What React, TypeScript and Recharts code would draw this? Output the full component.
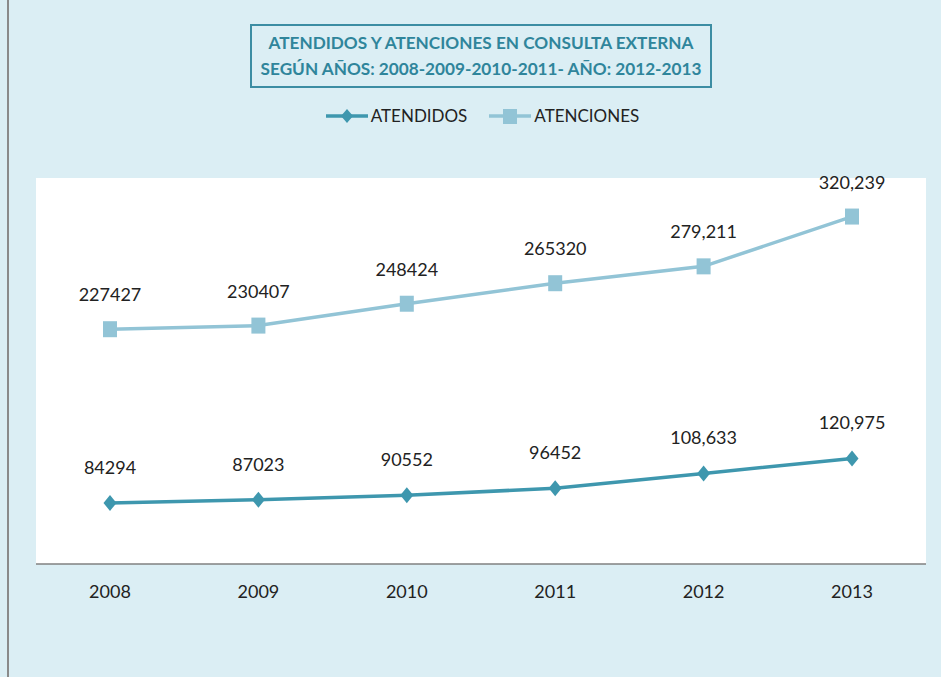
import { LineChart, Line, XAxis, YAxis, CartesianGrid, LabelList } from "recharts";

const years = ["2008", "2009", "2010", "2011", "2012", "2013"];
const atendidos = [84294, 87023, 90552, 96452, 108633, 120975];
const atenciones = [227427, 230407, 248424, 265320, 279211, 320239];
const atendidosLabels = ["84294", "87023", "90552", "96452", "108,633", "120,975"];
const atencionesLabels = ["227427", "230407", "248424", "265320", "279,211", "320,239"];

const data = years.map((year, i) => ({
  year,
  atendidos: atendidos[i],
  atenciones: atenciones[i],
  atendidosLabel: atendidosLabels[i],
  atencionesLabel: atencionesLabels[i],
}));

const BG = "#dbeef4";
const DARK = "#3e97ae";
const LIGHT = "#92c4d6";
const FONT = "Lato, 'Open Sans', sans-serif";

const Diamond = (props: any) => {
  const { cx, cy } = props;
  if (cx == null || cy == null) return null;
  return <polygon points={`${cx},${cy - 8} ${cx + 6.5},${cy} ${cx},${cy + 8} ${cx - 6.5},${cy}`} fill={DARK} />;
};

const Square = (props: any) => {
  const { cx, cy } = props;
  if (cx == null || cy == null) return null;
  return <rect x={cx - 7} y={cy - 8} width={14} height={16} fill={LIGHT} />;
};

function LegendRow() {
  return (
    <div
      style={{
        position: "absolute",
        top: 105,
        left: 0,
        width: 941,
        display: "flex",
        justifyContent: "center",
        gap: 22,
        fontFamily: FONT,
        fontSize: 17,
        color: "#222",
        paddingLeft: 12,
      }}
    >
      <span style={{ display: "flex", alignItems: "center" }}>
        <svg width={42} height={20} style={{ marginRight: 3 }}>
          <line x1={0} y1={10} x2={42} y2={10} stroke={DARK} strokeWidth={3.5} />
          <polygon points="21,3 27,10 21,17 15,10" fill={DARK} />
        </svg>
        ATENDIDOS
      </span>
      <span style={{ display: "flex", alignItems: "center" }}>
        <svg width={42} height={20} style={{ marginRight: 3 }}>
          <line x1={0} y1={10} x2={42} y2={10} stroke={LIGHT} strokeWidth={3.5} />
          <rect x={14} y={3} width={14} height={15} fill={LIGHT} />
        </svg>
        ATENCIONES
      </span>
    </div>
  );
}

export default function App() {
  return (
    <div style={{ position: "absolute", left: 0, top: 0, width: 941, height: 677, background: BG, overflow: "hidden" }}>
      <div style={{ position: "absolute", left: 7, top: 0, width: 2, height: 677, background: "#8a8a8a" }} />
      <div
        style={{
          position: "absolute",
          left: 250,
          top: 24,
          width: 458,
          height: 60,
          border: "2px solid #3c8da3",
          color: "#2f859b",
          fontFamily: FONT,
          fontWeight: 700,
          fontSize: 17.2,
          lineHeight: "26px",
          textAlign: "center",
          display: "flex",
          flexDirection: "column",
          justifyContent: "center",
        }}
      >
        <div>ATENDIDOS Y ATENCIONES EN CONSULTA EXTERNA</div>
        <div>SEGÚN AÑOS: 2008-2009-2010-2011- AÑO: 2012-2013</div>
      </div>
      <LegendRow />
      <div style={{ position: "absolute", left: 0, top: 0 }}>
        <LineChart width={941} height={677} data={data} margin={{ top: 178, right: 15, bottom: 73, left: 36 }}>
          <CartesianGrid fill="#ffffff" horizontal={false} vertical={false} stroke="none" />
          <XAxis
            dataKey="year"
            height={40}
            padding={{ left: 74, right: 74 }}
            tickLine={false}
            tickMargin={15}
            axisLine={{ stroke: "#808080", strokeWidth: 1.5 }}
            tick={{ fill: "#222", fontSize: 18, fontFamily: FONT }}
          />
          <YAxis hide domain={[34000, 352000]} />
          <Line
            dataKey="atendidos"
            stroke={DARK}
            strokeWidth={3.5}
            dot={<Diamond />}
            activeDot={false}
            isAnimationActive={false}
          >
            <LabelList dataKey="atendidosLabel" position="top" offset={29} fill="#222" fontSize={18} fontFamily={FONT} />
          </Line>
          <Line
            dataKey="atenciones"
            stroke={LIGHT}
            strokeWidth={3.5}
            dot={<Square />}
            activeDot={false}
            isAnimationActive={false}
          >
            <LabelList dataKey="atencionesLabel" position="top" offset={28} fill="#222" fontSize={18} fontFamily={FONT} />
          </Line>
        </LineChart>
      </div>
    </div>
  );
}
